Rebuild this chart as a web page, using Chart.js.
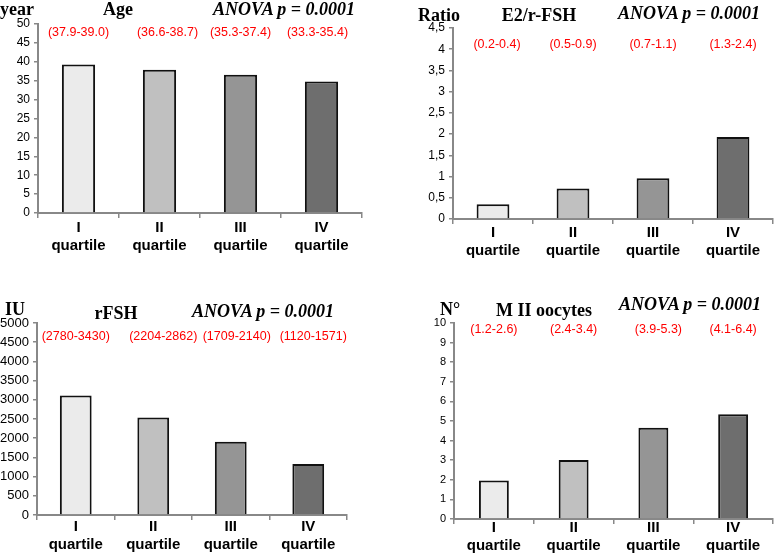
<!DOCTYPE html>
<html>
<head>
<meta charset="utf-8">
<script src="https://cdn.jsdelivr.net/npm/chart.js@4.4.0/dist/chart.umd.min.js"></script>
<style>
  body { margin: 0; background: #fff; }
  #wrap { position: relative; width: 774px; height: 555px; overflow: hidden; }
  canvas { position: absolute; }
  .t { position: absolute; font-family: "Liberation Serif", "Times New Roman", serif; font-weight: bold;
       font-size: 18px; line-height: 18px; white-space: nowrap; color: #000; transform: translateY(-50%); }
  .c { transform: translate(-50%, -50%); }
  .i { font-style: italic; }
</style>
</head>
<body>
<div id="wrap">
  <canvas id="age" width="387" height="265" style="left:0;top:0"></canvas>
  <canvas id="ratio" width="387" height="265" style="left:387px;top:0"></canvas>
  <canvas id="fsh" width="387" height="290" style="left:0;top:265px"></canvas>
  <canvas id="mii" width="387" height="290" style="left:387px;top:265px"></canvas>

  <div class="t" style="left:0;top:9px">year</div>
  <div class="t c" style="left:118px;top:9px">Age</div>
  <div class="t i" style="left:213px;top:9px">ANOVA p = 0.0001</div>

  <div class="t" style="left:418px;top:15px">Ratio</div>
  <div class="t c" style="left:539px;top:15px">E2/r-FSH</div>
  <div class="t i" style="left:618px;top:13px">ANOVA p = 0.0001</div>

  <div class="t" style="left:5px;top:309px">IU</div>
  <div class="t c" style="left:116px;top:313px">rFSH</div>
  <div class="t i" style="left:192px;top:311px">ANOVA p = 0.0001</div>

  <div class="t" style="left:440px;top:309px">N°</div>
  <div class="t c" style="left:544px;top:310px">M II oocytes</div>
  <div class="t i" style="left:619px;top:304px">ANOVA p = 0.0001</div>
</div>
<script>
// categories
const quartiles = [['I', 'quartile'], ['II', 'quartile'], ['III', 'quartile'], ['IV', 'quartile']];

// series values
const ageValues = [39.3, 37.9, 36.6, 34.8];
const ratioValues = [0.35, 0.72, 0.96, 1.93];
const fshValues = [3110, 2540, 1910, 1330];
const miiValues = [1.96, 3.01, 4.65, 5.35];

// red range labels above the bars
const ageRanges = ['(37.9-39.0)', '(36.6-38.7)', '(35.3-37.4)', '(33.3-35.4)'];
const ratioRanges = ['(0.2-0.4)', '(0.5-0.9)', '(0.7-1.1)', '(1.3-2.4)'];
const fshRanges = ['(2780-3430)', '(2204-2862)', '(1709-2140)', '(1120-1571)'];
const miiRanges = ['(1.2-2.6)', '(2.4-3.4)', '(3.9-5.3)', '(4.1-6.4)'];

const barColors = ['#ebebeb', '#c0c0c0', '#959595', '#6e6e6e'];
const axisGrey = '#888888';
const sans = '"Liberation Sans", Arial, Helvetica, sans-serif';

// draws the red ranges at each category centre
const rangeLabels = {
  id: 'rangeLabels',
  afterDraw(chart, args, opts) {
    const ctx = chart.ctx;
    const xs = chart.scales.x;
    ctx.save();
    ctx.font = '12.5px ' + sans;
    ctx.fillStyle = '#ff0000';
    ctx.textAlign = 'center';
    ctx.textBaseline = 'middle';
    opts.labels.forEach((t, i) => ctx.fillText(t, xs.getPixelForValue(i) + (opts.dx ? opts.dx[i] : 0), opts.y));
    ctx.restore();
  }
};

function makePanel(id, values, ranges, cfg) {
  const canvas = document.getElementById(id);
  const W = canvas.width, H = canvas.height;
  return new Chart(canvas, {
    type: 'bar',
    data: {
      labels: quartiles,
      datasets: [{
        data: values,
        backgroundColor: barColors,
        borderColor: '#111',
        borderWidth: 2,
        barPercentage: 1,
        categoryPercentage: cfg.catPct
      }]
    },
    options: {
      responsive: false,
      animation: false,
      layout: { padding: { top: cfg.top, right: W - cfg.right, left: 0, bottom: 0 } },
      plugins: {
        legend: { display: false },
        tooltip: { enabled: false },
        rangeLabels: { labels: ranges, y: cfg.rangeY, dx: cfg.dx }
      },
      scales: {
        x: {
          grid: { offset: true, drawOnChartArea: false, drawTicks: true, tickLength: 5, color: axisGrey, lineWidth: 1.5 },
          border: { display: true, color: axisGrey, width: 2 },
          ticks: {
            color: '#000',
            padding: cfg.xPad,
            maxRotation: 0,
            font: { family: sans, size: 15, weight: 'bold', lineHeight: 1.2 }
          },
          afterFit(scale) { scale.height = H - cfg.bottom; }
        },
        y: {
          min: 0,
          max: cfg.max,
          grid: { drawOnChartArea: false, drawTicks: true, tickLength: 4, color: axisGrey, lineWidth: 1.5 },
          border: { display: true, color: axisGrey, width: 2 },
          ticks: {
            stepSize: cfg.step,
            color: '#000',
            padding: 4,
            font: { family: sans, size: cfg.tickSize },
            callback: v => String(Math.round(v * 10) / 10).replace('.', ',')
          },
          afterFit(scale) { scale.width = cfg.left; }
        }
      }
    },
    plugins: [rangeLabels]
  });
}

makePanel('age', ageValues, ageRanges,
  { left: 38, top: 24, right: 362, bottom: 213, max: 50, step: 5, tickSize: 12, catPct: 0.41, rangeY: 33, dx: [0, 8, 0, -4], xPad: 1 });
makePanel('ratio', ratioValues, ratioRanges,
  { left: 66, top: 28, right: 386, bottom: 219, max: 4.5, step: 0.5, tickSize: 12, catPct: 0.41, rangeY: 45, dx: [4, 0, 0, 0], xPad: 0 });
makePanel('fsh', fshValues, fshRanges,
  { left: 37, top: 58, right: 347, bottom: 250, max: 5000, step: 500, tickSize: 13, catPct: 0.41, rangeY: 72, dx: [0, 10, 6, 5], xPad: -2 });
makePanel('mii', miiValues, miiRanges,
  { left: 67, top: 58, right: 386, bottom: 254, max: 10, step: 1, tickSize: 11, catPct: 0.375, rangeY: 65, dx: [0, 0, 5, 0], xPad: -5 });
</script>
</body>
</html>
